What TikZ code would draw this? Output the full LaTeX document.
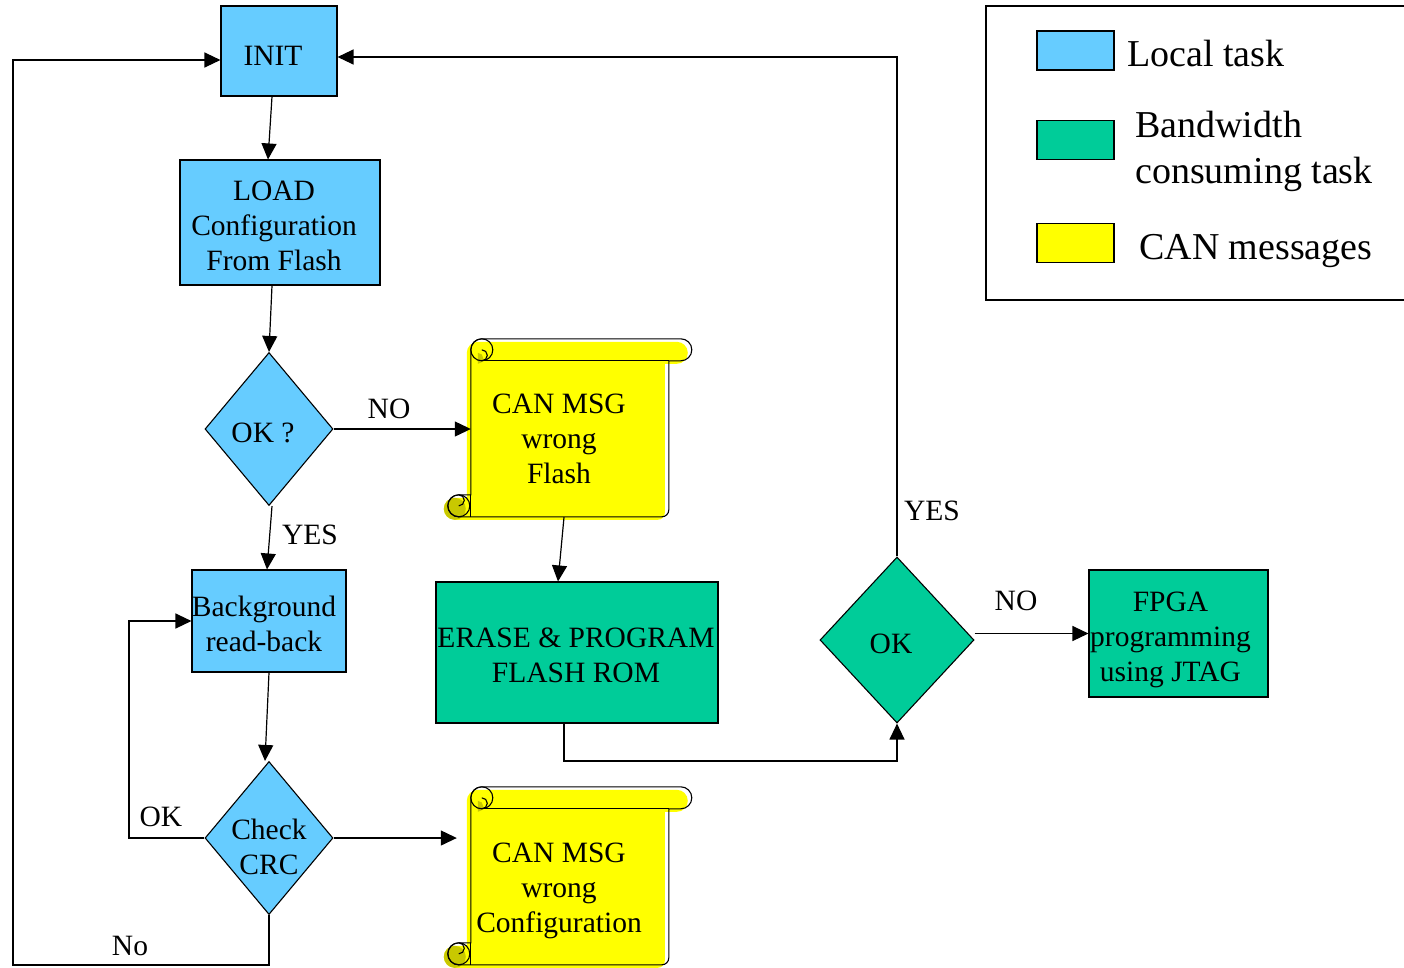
\documentclass[tikz,border=0pt]{standalone}
\usepackage{fontspec}
\setmainfont{Liberation Serif}
\usetikzlibrary{arrows.meta,shapes.geometric,calc}
\definecolor{localblue}{HTML}{66CCFF}
\definecolor{bwgreen}{HTML}{00CC99}
\definecolor{canyellow}{HTML}{FFFF00}
\definecolor{curlolive}{HTML}{C8C800}

% scroll outline drawn around a message node (body below a rolled top bar)
\newcommand\drawscroll[1]{%
  \begin{scope}[shift={([yshift=22pt]#1.north west)}]
    \fill[canyellow, shift={(-4,3)}] (11,0) -- (210,0)
      arc[start angle=-90,end angle=90,radius=11] -- (198,22) -- (198,171)
      arc[start angle=0,end angle=90,radius=7] -- (-12,178)
      arc[start angle=90,end angle=270,radius=11] -- (0,156) -- (0,11)
      arc[start angle=180,end angle=270,radius=11] -- cycle;
    \fill[curlolive] (-16,170) circle[radius=11];
    \fill[curlolive] (7,25) arc[start angle=90,end angle=-90,radius=5.5] -- cycle;
    \draw[scrollline] (11,0) -- (210,0)
      arc[start angle=-90,end angle=90,radius=11] -- (198,22) -- (198,171)
      arc[start angle=0,end angle=90,radius=7] -- (-12,178)
      arc[start angle=90,end angle=270,radius=11] -- (0,156) -- (0,11)
      arc[start angle=180,end angle=270,radius=11];
    \draw[scrollline] (0,156) -- (0,178);
    \draw[scrollline] (11,22) -- (198,22);
    \draw[scrollline] (11,11) circle[radius=11];
    \draw[scrollline] (-12,167) circle[radius=11];
    \draw[scrollline] (11,22) arc[start angle=90,end angle=-90,radius=5.5];
    \draw[scrollline] (-12,156) arc[start angle=-90,end angle=90,radius=5.5];
  \end{scope}}

\begin{document}
\begin{tikzpicture}[x=1pt,y=-1pt,
  every node/.style={font=\fontsize{29.5}{35}\selectfont},
  every label/.style={align=center},
  task/.style={draw, line width=1.1pt, rectangle, inner sep=0pt},
  localtask/.style={task, fill=localblue},
  bwtask/.style={task, fill=bwgreen},
  decision/.style={draw, line width=1.1pt, diamond, inner sep=0pt},
  message/.style={rectangle, inner sep=0pt, minimum width=198pt, minimum height=156pt},
  scrollline/.style={line width=1.1pt},
  conn/.style={line width=1.2pt, -{Triangle[length=16pt,width=15pt]}},
  legendtext/.style={font=\fontsize{38}{46}\selectfont, inner sep=0pt, anchor=west, align=left},
  swatch/.style={draw, line width=1.1pt, minimum width=77pt, minimum height=39pt, inner sep=0pt}]

\useasboundingbox (0,0) rectangle (1404,967);

% tasks
\node[localtask, minimum width=116pt, minimum height=90pt,
  label={[xshift=-6pt,yshift=-5pt]center:INIT}] (init) at (279,51) {};
\node[localtask, minimum width=200pt, minimum height=125pt,
  label={[xshift=-6pt,yshift=-3pt]center:LOAD\\Configuration\\From Flash}] (load) at (280,222.5) {};
\node[decision, fill=localblue, minimum width=128pt, minimum height=153pt,
  label={[xshift=-6pt,yshift=-4pt]center:OK ?}] (ok1) at (269,429) {};
\node[localtask, minimum width=154pt, minimum height=102pt,
  label={[xshift=-5pt,yshift=-3pt]center:Background\\read-back}] (bg) at (269,621) {};
\node[decision, fill=localblue, minimum width=128pt, minimum height=153pt,
  label={[yshift=-9pt]center:Check\\CRC}] (check) at (269,838) {};
\node[bwtask, minimum width=282pt, minimum height=141pt,
  label={[xshift=-1pt,yshift=-3pt]center:ERASE \& PROGRAM\\FLASH ROM}] (erase) at (577,652.5) {};
\node[decision, fill=bwgreen, minimum width=154pt, minimum height=166pt,
  label={[xshift=-6pt,yshift=-4pt]center:OK}] (ok2) at (897,640) {};
\node[bwtask, minimum width=179pt, minimum height=127pt,
  label={[xshift=-8pt,yshift=-6pt]center:FPGA\\programming\\using JTAG}] (fpga) at (1178.5,633.5) {};

% CAN messages
\node[message] (msg1) at (570,439) {};
\drawscroll{msg1}
\node[align=center] (msg1text) at ([xshift=-11pt]msg1.center) {CAN MSG\\wrong\\Flash};
\node[message] (msg2) at (570,887) {};
\drawscroll{msg2}
\node[align=center] (msg2text) at ([xshift=-11pt,yshift=-4pt]msg2.center) {CAN MSG\\wrong\\Configuration};

% connectors
\coordinate (c1) at (897,761);
\coordinate (c2) at (129,621);
\coordinate (c3) at (13,965);
\draw[conn] ([xshift=-7pt]init.south) -- ([xshift=-12pt]load.north);
\draw[conn] ([xshift=-8pt]load.south) -- (ok1.north);
\draw[conn] (ok1.east) -- (ok1.east -| msg1.west);
\draw[conn] ([xshift=3pt]ok1.south) -- ([xshift=-2pt]bg.north);
\draw[conn] ([xshift=-6pt]msg1.south) -- ([xshift=-19pt]erase.north);
\draw[conn] ([xshift=-13pt]erase.south) |- (c1) -- (ok2.south);
\draw[conn] (ok2.north) |- ([yshift=-6pt]init.east);
\draw[conn] (ok2.east |- fpga.west) -- (fpga.west);
\draw[conn] (bg.south) -- ([xshift=-4pt]check.north);
\draw[conn] (check.west) -| (c2) -- (bg.west);
\draw[conn] (check.east) -- ([xshift=-14pt]check.east -| msg2.west);
\draw[conn] (check.south) |- (c3) |- ([yshift=-9pt]init.west);

% connector labels
\node (lno1) at (389,409) {NO};
\node (lyes1) at (310,535) {YES};
\node (lyes2) at (932,511) {YES};
\node (lno2) at (1016,601) {NO};
\node (lok) at (161,817) {OK};
\node (lno3) at (130,946) {No};

% legend
\node[draw, line width=1.1pt, minimum width=440pt, minimum height=294pt, inner sep=0pt]
  (legend) at (1206,153) {};
\node[swatch, fill=localblue] (swlocal) at (1075.5,50.5) {};
\node[swatch, fill=bwgreen] (swbw) at (1075.5,140) {};
\node[swatch, fill=canyellow] (swcan) at (1075.5,243) {};
\node[legendtext] (tlocal) at (1127,53) {Local task};
\node[legendtext] (tbw) at (1135,151) {Bandwidth\\consuming task};
\node[legendtext] (tcan) at (1139,251) {CAN messages};
\end{tikzpicture}
\end{document}
